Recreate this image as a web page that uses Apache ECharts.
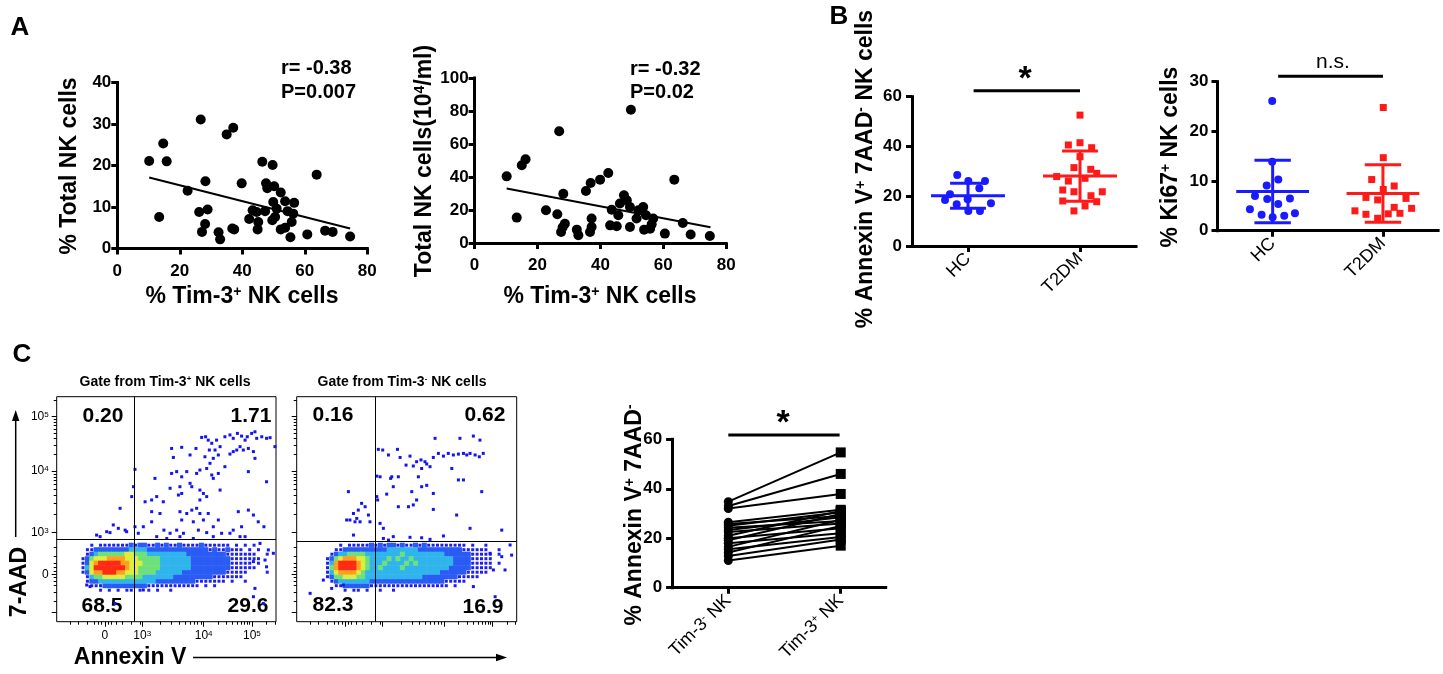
<!DOCTYPE html>
<html>
<head>
<meta charset="utf-8">
<title>Tim-3 NK cells</title>
<script src="https://cdn.jsdelivr.net/npm/echarts@6.0.0/dist/echarts.min.js"></script>
<style>
  html, body { margin: 0; padding: 0; background: #fff; }
  #chart { width: 1443px; height: 674px; }
</style>
</head>
<body>
<div id="chart"></div>
<script>
var FONT = '"Liberation Sans", Arial, sans-serif';

// ---- panel A : correlations ----
var a1Tim3 = [10.2, 14.7, 15.8, 13.4, 26.7, 22.5, 28.2, 26.2, 28.9, 28.1, 27.1, 32.4, 32.9, 36.8, 37.4,
  35.0, 37.1, 39.8, 46.4, 49.7, 47.6, 48.0, 43.3, 44.6, 42.2, 45.1, 44.9, 47.3, 49.9, 49.6, 52.3, 53.7,
  56.6, 54.5, 56.3, 55.8, 52.3, 53.7, 55.4, 60.8, 63.8, 66.5, 68.9, 74.5, 51.0, 50.2, 50.5];
var a1TotalNk = [21.1, 25.3, 21.0, 7.6, 31.1, 13.9, 16.2, 8.8, 9.4, 5.9, 4.0, 3.9, 2.2, 4.8, 4.6,
  27.5, 29.1, 15.7, 20.9, 20.1, 15.7, 14.5, 9.2, 8.8, 7.1, 6.4, 4.6, 9.0, 11.2, 6.8, 13.5, 11.4,
  11.0, 9.0, 8.4, 6.4, 4.6, 5.0, 2.7, 3.4, 17.8, 4.3, 4.0, 2.9, 9.6, 15.0, 7.6];
var a1Fit = [[10.2, 17.1], [74.5, 4.8]];

var a2Tim3 = [10.2, 13.4, 15.0, 16.2, 26.9, 28.2, 22.7, 26.3, 28.7, 28.0, 27.5, 32.5, 33.0, 37.2, 37.2,
  36.7, 35.4, 36.9, 39.9, 42.5, 49.7, 43.6, 46.2, 47.5, 48.4, 49.4, 45.7, 43.1, 45.2, 49.4, 51.5, 52.1,
  53.6, 54.5, 53.9, 55.8, 56.8, 56.3, 60.5, 63.5, 66.2, 68.7, 74.8];
var a2TotalNkAbs = [40.4, 15.4, 47.1, 50.7, 67.7, 29.9, 19.8, 17.4, 11.7, 9.5, 6.7, 8.1, 4.7, 14.8, 9.7,
  6.7, 31.5, 36.4, 38.4, 42.4, 80.8, 20.2, 23.9, 28.9, 25.9, 21.8, 16.8, 10.7, 10.1, 9.7, 14.8, 19.8,
  21.8, 16.8, 8.1, 8.7, 14.8, 11.3, 5.7, 38.4, 12.1, 5.1, 4.2];
var a2Fit = [[10.2, 33.0], [75.0, 9.5]];

// ---- panel B : HC vs T2DM ([jittered group position, value]) ----
var groupNames = ['HC', 'T2DM'];
var hcAnnexin = [[0.904, 28.5], [1.003, 26.1], [1.152, 26.1], [1.101, 23.2], [0.839, 20.8], [0.795, 18.5],
  [0.997, 18.8], [0.899, 16.8], [1.205, 17.2], [1.003, 14.1], [1.107, 14.1]];
var t2dmAnnexin = [[2.0, 52.6], [1.896, 40.6], [2.0, 41.5], [2.104, 39.5], [2.0, 35.9], [1.946, 31.5],
  [2.096, 30.8], [2.149, 29.2], [1.792, 27.9], [2.045, 27.2], [1.896, 26.1], [1.846, 22.5], [1.946, 21.8],
  [2.199, 21.8], [2.098, 20.2], [1.846, 18.1], [2.149, 17.8], [2.045, 16.1], [1.946, 14.1]];
var annexinMean = [20.2, 28.1];
var annexinSD = [5.0, 10.1];

var hcKi67 = [[0.996, 26.1], [0.996, 13.9], [1.051, 10.3], [0.946, 9.1], [0.840, 7.0], [0.951, 6.4],
  [1.157, 6.5], [1.051, 5.4], [0.794, 4.3], [0.900, 3.2], [1.0, 2.7], [1.105, 3.0], [1.202, 3.5]];
var t2dmKi67 = [[2.003, 24.8], [2.003, 14.7], [1.898, 10.3], [2.102, 9.0], [2.003, 8.3], [1.846, 6.7],
  [1.952, 6.2], [2.209, 6.5], [2.102, 4.7], [2.260, 4.5], [1.746, 4.0], [1.846, 3.3], [2.048, 3.4],
  [2.154, 3.5], [1.952, 2.5]];
var ki67Mean = [7.9, 7.5];
var ki67SD = [6.3, 5.8];

// ---- panel C : flow plots (display scale 0-100 on both axes) ----
var flowXTickVals = [22, 39, 67, 89];
var flowXTickText = ['0', '10{s|3}', '10{s|4}', '10{s|5}'];
var flowYTickVals = [4.4, 21.1, 39.6, 67.0, 91.1];
var flowYTickText = ['', '0', '10{s|3}', '10{s|4}', '10{s|5}'];
var gateTim3Pos = [35.4, 36.6];
var gateTim3Neg = [35.9, 35.6];
var quadTim3Pos = ['0.20', '1.71', '68.5', '29.6'];
var quadTim3Neg = ['0.16', '0.62', '82.3', '16.9'];

// density levels, one string per row, columns start at x=12 every 2 units
var flowRowY = [34, 32, 30, 28, 26, 24, 22, 20, 18, 16, 14];
var flowColX0 = 12, flowColStep = 2;
var densityTim3Pos = [
  '0010 1111 1112 1221 1212 1121 1112 1111 1101 0101 0000',
  '0112 2222 2223 3332 2222 2222 2222 2121 1211 1010 1000',
  '0123 4444 4455 4443 3333 3333 2222 2222 2111 1111 0010',
  '1245 5566 6655 5444 4433 3333 3222 2222 2211 1111 1000',
  '1256 7777 7665 5544 4433 3333 3222 2222 2211 1110 1000',
  '1357 7777 7765 5444 4433 3333 3222 2222 2211 1111 0000',
  '1256 6777 6655 5444 4333 3332 2222 2222 2111 1100 0010',
  '0134 4555 5544 4433 3333 3222 2222 2211 1111 1000 0000',
  '0122 3333 3333 3333 3222 2222 2211 1111 1010 0100 0000',
  '0011 1222 2222 2221 1111 1111 1110 1010 0000 0000 0000',
  '0000 1010 1011 0101 0100 1000 0000 0000 0000 0000 0000'
];
var densityTim3Neg = [
  '0000 1011 1112 1212 2121 1212 1111 1111 1010 0100 0000',
  '0001 1222 2222 2223 3333 3322 2222 2222 1111 1100 1000',
  '0012 3344 4433 3333 3343 3333 3333 2222 2211 1110 1000',
  '0124 5666 5543 3334 3433 4333 3333 3322 2211 1110 0000',
  '0136 7777 6543 3343 3334 3433 3333 3322 2211 1110 1000',
  '0146 7777 6543 3433 3343 3333 3333 3222 2211 1110 0000',
  '0135 6666 5433 3333 3333 3333 3332 2222 2111 1100 0000',
  '0124 4555 4433 3333 3333 3332 2222 2221 1111 0000 0000',
  '0012 3333 3332 2222 2222 2222 2222 1111 1000 0000 0000',
  '0001 1222 2221 1111 1111 1111 1111 1010 0000 0000 0000',
  '0000 0101 1010 0100 1000 0000 0000 0000 0000 0000 0000'
];
var sparseTim3Pos = [[66.1,81.9],[67.9,82.2],[69.1,80.7],[70.7,79.3],[72.9,80.7],[74.5,77.8],[72.2,76.3],
  [73.7,74.1],[71.4,72.6],[69.9,70.4],[76.7,82.2],[79.0,83.0],[80.5,81.5],[82.4,83.7],[84.3,82.5],[85.9,80.7],
  [86.9,82.2],[88.9,83.7],[90.4,84.4],[91.2,81.5],[93.5,82.2],[95.7,81.5],[97.3,81.8],[99.5,77.8],[83.6,77.8],
  [85.1,76.3],[87.4,77.0],[89.7,75.6],[80.5,75.6],[82.1,76.3],[79.0,74.5],[90.4,72.6],[87.4,66.7],[95.7,62.2],
  [67.6,73.3],[69.6,76.3],[63.5,77.0],[60.8,74.1],[57.0,77.5],[52.4,77.0],[53.2,73.0],[52.4,65.9],[54.7,66.7],
  [57.0,64.4],[59.3,66.7],[60.8,61.5],[63.8,65.9],[65.3,67.4],[68.4,68.1],[70.7,65.2],[73.7,65.9],[71.4,63.7],
  [76.7,68.9],[74.5,58.5],[68.4,55.6],[66.9,57.0],[65.3,54.1],[61.6,60.0],[57.0,57.0],[55.5,56.3],[51.7,59.3],
  [48.6,53.3],[47.1,48.1],[43.3,48.9],[40.3,53.3],[43.3,54.1],[45.6,55.6],[44.8,63.7],[63.8,50.4],[65.3,48.1],
  [66.9,45.2],[61.6,49.6],[59.3,48.1],[56.2,48.9],[57.0,45.2],[62.3,44.4],[69.1,48.1],[71.4,42.2],[73.7,45.2],
  [75.2,39.3],[79.0,39.3],[82.8,48.9],[84.3,42.2],[87.4,49.6],[89.7,47.4],[91.9,44.4],[94.5,42.2],[68.4,39.6],
  [64.6,40.7],[57.8,39.3],[54.7,40.7],[51.7,39.3],[48.9,40.7],[45.6,37.8],[43.3,44.4],[39.5,42.2],[37.2,39.3],
  [35.7,42.2],[35.0,60.0],[34.2,55.6],[35.7,67.7],[28.9,50.4],[25.8,43.0],[22.8,40.0],[24.3,39.6],[31.2,40.7],
  [31.9,40.0],[28.1,41.5],[19.8,37.8],[18.2,38.5],[90.4,14.8],[89.7,11.1],[94.2,8.1],[39.5,14.1],[26.6,8.1],
  [15.2,15.6],[13.7,16.3],[95.7,24.4],[95.0,27.4],[89.7,26.7],[98.8,30.4],[96.5,31.9],[92.7,34.8],[56.2,60.0],
  [65.3,58.5],[80.5,40.7],[83.6,37.8],[85.9,37.8],[50.2,37.0],[56.2,37.8],[62.3,37.0],[71.4,37.8]];
var sparseTim3Neg = [[62.9,81.5],[74.2,81.5],[80.3,82.5],[83.3,80.7],[37.1,76.6],[39.1,76.3],[45.8,76.6],
  [41.7,74.1],[47.0,73.0],[51.5,73.6],[54.5,71.1],[56.5,71.9],[58.3,71.1],[62.1,73.0],[64.4,74.8],[66.7,73.6],
  [68.9,74.8],[71.2,74.1],[73.5,74.5],[75.8,74.8],[77.3,74.1],[78.8,74.8],[81.1,74.1],[83.0,73.3],[84.8,74.8],
  [60.6,68.9],[53.0,69.2],[49.7,69.6],[56.8,68.1],[59.1,70.1],[70.5,68.1],[37.9,64.4],[36.4,64.7],[43.2,64.4],
  [42.7,63.7],[55.3,64.4],[73.5,63.0],[75.8,63.0],[43.9,60.0],[56.8,60.0],[59.1,60.6],[40.9,56.7],[52.3,57.8],
  [62.1,57.0],[84.1,57.8],[53.0,51.9],[54.5,54.1],[46.2,51.1],[50.8,51.1],[62.1,49.9],[72.7,47.4],[36.8,54.1],
  [36.4,55.6],[23.5,57.8],[29.5,52.6],[31.1,51.1],[28.0,49.6],[25.8,48.1],[24.2,45.2],[22.7,45.2],[26.5,44.4],
  [27.3,45.9],[28.8,44.4],[32.6,47.4],[33.3,44.4],[25.8,38.5],[39.4,37.0],[41.7,36.3],[43.9,37.8],[51.5,37.5],
  [56.8,37.3],[60.6,36.6],[66.7,38.1],[78.8,41.5],[93.2,40.7],[39.4,41.5],[37.9,43.7],[97.0,34.1],[97.7,29.6],
  [93.2,28.9],[87.9,30.4],[89.4,23.0],[94.7,23.0],[80.3,15.6],[90.2,11.1],[6.1,12.6],[12.1,18.5],[15.9,14.8],
  [21.2,16.3],[46.2,64.4]];

// ---- panel C : paired Annexin V+ 7AAD- ----
var pairedNames = ['Tim-3{s|-} NK', 'Tim-3{s|+} NK'];
var pairedNeg = [34.8, 33.0, 32.0, 26.5, 25.8, 25.0, 24.2, 23.3, 22.5, 21.0, 20.0, 19.2, 18.0, 16.5, 15.5, 14.2, 12.8, 11.0];
var pairedPos = [54.7, 46.0, 37.9, 31.5, 29.0, 30.5, 27.0, 28.5, 26.0, 31.0, 24.0, 29.8, 22.0, 27.5, 20.5, 25.0, 19.5, 17.0];

var densityColors = ['', '#1f1ff0', '#2a5cf4', '#2fb4ec', '#6ee07a', '#dcee3a', '#ff9f22', '#ff2a14'];
var BLUE = '#1a1aff', RED = '#ff1a1a';

function densityPoints(rows) {
  var out = [];
  rows.forEach(function (row, r) {
    row.replace(/ /g, '').split('').forEach(function (ch, i) {
      var lvl = +ch;
      if (lvl > 0) out.push([flowColX0 + flowColStep * i, flowRowY[r], lvl]);
    });
  });
  out.sort(function (a, b) { return a[2] - b[2]; });
  return out;
}

// minor ticks of the log decades and of the linear part round zero
function minorTicks(decades, zero, offsets) {
  var t = [];
  decades.forEach(function (d) {
    for (var k = 2; k <= 9; k++) {
      var v = d[0] + (d[1] - d[0]) * Math.log10(k);
      if (v < 100) t.push(v);
    }
  });
  offsets.forEach(function (o) {
    if (zero - o > 1) t.push(zero - o);
    t.push(zero + o);
  });
  return t;
}
var flowXMinor = minorTicks([[39, 67], [67, 89], [89, 111]], 22, [1.5, 3, 5, 8, 12, 16]);
var flowYMinor = minorTicks([[39.6, 67.0], [67.0, 91.1], [91.1, 115.2]], 21.1, [1.5, 3, 5, 8, 12]);

function pick(vals, texts) {
  return function (v) {
    for (var i = 0; i < vals.length; i++) if (Math.abs(vals[i] - v) < 0.01) return texts[i];
    return '';
  };
}

var axisLineStyle = { show: true, onZero: false, lineStyle: { color: '#000', width: 3, cap: 'square' } };
var tickStyle = { show: true, length: 6, lineStyle: { color: '#000', width: 3 } };

function valueAxis(gridIndex, min, max, interval, margin) {
  return {
    type: 'value', gridIndex: gridIndex, min: min, max: max, interval: interval,
    axisLine: axisLineStyle, axisTick: tickStyle, splitLine: { show: false },
    axisLabel: { margin: margin, color: '#000', fontSize: 17, fontWeight: 'bold', fontFamily: FONT }
  };
}

function groupAxis(gridIndex, max, names) {
  return {
    type: 'value', gridIndex: gridIndex, min: 0.5, max: max,
    axisLine: axisLineStyle, splitLine: { show: false },
    axisTick: { show: true, length: 6, customValues: [1, 2], lineStyle: { color: '#000', width: 3 } },
    axisLabel: {
      customValues: [1, 2], rotate: 45, margin: 10, color: '#000', fontSize: 18, fontFamily: FONT,
      formatter: function (v) { return names[Math.round(v) - 1]; },
      rich: { s: { fontSize: 11, fontFamily: FONT, color: '#000', verticalAlign: 'top' } }
    }
  };
}

function flowAxis(dim, gridIndex, showLabel) {
  var vals = dim === 'x' ? flowXTickVals : flowYTickVals;
  var texts = dim === 'x' ? flowXTickText : flowYTickText;
  return {
    type: 'value', gridIndex: gridIndex, min: 0, max: 100, position: dim === 'x' ? 'bottom' : 'left',
    axisLine: { show: false }, splitLine: { show: false },
    axisTick: { show: true, length: 5, customValues: vals, lineStyle: { color: '#000', width: 1 } },
    axisLabel: {
      show: showLabel, customValues: vals, margin: 8, color: '#000', fontSize: 12, fontFamily: FONT,
      formatter: pick(vals, texts),
      rich: { s: { fontSize: 8, fontFamily: FONT, color: '#000', verticalAlign: 'top' } }
    }
  };
}

function flowMinorAxis(dim, gridIndex) {
  return {
    type: 'value', gridIndex: gridIndex, min: 0, max: 100, position: dim === 'x' ? 'bottom' : 'left',
    axisLine: { show: false }, splitLine: { show: false }, axisLabel: { show: false },
    axisTick: { show: true, length: 3, customValues: dim === 'x' ? flowXMinor : flowYMinor,
      lineStyle: { color: '#000', width: 1 } }
  };
}

function errorBars(halfMean, halfCap, color) {
  return function (params, api) {
    var x = api.value(0), m = api.value(1), sd = api.value(2);
    function seg(a, b) {
      var p = api.coord(a), q = api.coord(b);
      return { type: 'line', shape: { x1: p[0], y1: p[1], x2: q[0], y2: q[1] },
        style: { stroke: color, lineWidth: 3 } };
    }
    return { type: 'group', children: [
      seg([x - halfMean, m], [x + halfMean, m]),
      seg([x, m - sd], [x, m + sd]),
      seg([x - halfCap, m + sd], [x + halfCap, m + sd]),
      seg([x - halfCap, m - sd], [x + halfCap, m - sd])
    ] };
  };
}

function zip(xs, ys) { return xs.map(function (x, i) { return [x, ys[i]]; }); }

function line(ax, data, width) {
  return { type: 'line', xAxisIndex: ax, yAxisIndex: ax, data: data, symbol: 'none', clip: false,
    silent: true, lineStyle: { color: '#000', width: width }, z: 3 };
}

function scatter(ax, data, symbol, size, color) {
  return { type: 'scatter', xAxisIndex: ax, yAxisIndex: ax, data: data, symbol: symbol,
    symbolSize: size, silent: true, itemStyle: { color: color, opacity: 1 }, z: 4 };
}

function gateLines(gate) {
  return { silent: true, symbol: ['none', 'none'], label: { show: false },
    lineStyle: { color: '#000', width: 1, type: 'solid' },
    data: [{ xAxis: gate[0] }, { yAxis: gate[1] }] };
}

function flowSeries(ax, rows, sparse, gate) {
  var dens = {
    type: 'scatter', xAxisIndex: ax, yAxisIndex: ax, data: densityPoints(rows), symbol: 'rect', silent: true,
    symbolSize: function (d) { return d[2] === 1 ? 3 : [5, 5]; },
    itemStyle: { opacity: 1, color: function (p) { return densityColors[p.data[2]]; } }
  };
  var sp = scatter(ax, sparse, 'rect', 3, '#1414f0');
  sp.markLine = gateLines(gate);
  return [dens, sp];
}

var series = [
  scatter(0, zip(a1Tim3, a1TotalNk), 'circle', 10, '#000'),
  line(0, a1Fit, 2),
  scatter(1, zip(a2Tim3, a2TotalNkAbs), 'circle', 10, '#000'),
  line(1, a2Fit, 2),

  scatter(2, hcAnnexin, 'circle', 8, BLUE),
  scatter(2, t2dmAnnexin, 'rect', 7, RED),
  { type: 'custom', xAxisIndex: 2, yAxisIndex: 2, silent: true, z: 5, encode: { x: 0, y: 1 },
    renderItem: errorBars(0.33, 0.16, BLUE), data: [[1, annexinMean[0], annexinSD[0]]] },
  { type: 'custom', xAxisIndex: 2, yAxisIndex: 2, silent: true, z: 5, encode: { x: 0, y: 1 },
    renderItem: errorBars(0.33, 0.16, RED), data: [[2, annexinMean[1], annexinSD[1]]] },
  line(2, [[1.05, 62.4], [2.0, 62.4]], 3),

  scatter(3, hcKi67, 'circle', 8, BLUE),
  scatter(3, t2dmKi67, 'rect', 7, RED),
  { type: 'custom', xAxisIndex: 3, yAxisIndex: 3, silent: true, z: 5, encode: { x: 0, y: 1 },
    renderItem: errorBars(0.33, 0.165, BLUE), data: [[1, ki67Mean[0], ki67SD[0]]] },
  { type: 'custom', xAxisIndex: 3, yAxisIndex: 3, silent: true, z: 5, encode: { x: 0, y: 1 },
    renderItem: errorBars(0.33, 0.165, RED), data: [[2, ki67Mean[1], ki67SD[1]]] },
  line(3, [[1.05, 31.1], [2.0, 31.1]], 3)
];
series = series.concat(flowSeries(4, densityTim3Pos, sparseTim3Pos, gateTim3Pos));
series = series.concat(flowSeries(5, densityTim3Neg, sparseTim3Neg, gateTim3Neg));
pairedNeg.forEach(function (v, i) { series.push(line(6, [[1, v], [2, pairedPos[i]]], 2)); });
series.push(scatter(6, pairedNeg.map(function (v) { return [1, v]; }), 'circle', 9, '#000'));
series.push(scatter(6, pairedPos.map(function (v) { return [2, v]; }), 'rect', 10, '#000'));
series.push(line(6, [[1.0, 61.7], [1.99, 61.7]], 3));

// ---- text and arrows ----
function txt(x, y, text, size, bold, rot, align) {
  var w = bold ? 'bold' : 'normal';
  return {
    type: 'text', x: x, y: y, rotation: rot || 0, silent: true,
    style: {
      text: text, fontSize: size, fontWeight: w, fontFamily: FONT, fill: '#000',
      align: align || 'center', verticalAlign: 'middle',
      textAlign: align || 'center', textVerticalAlign: 'middle',
      rich: { s: { fontSize: Math.round(size * 0.6), fontWeight: w, fontFamily: FONT, fill: '#000', verticalAlign: 'top' } }
    }
  };
}
var UP = Math.PI / 2;
var graphics = [
  txt(20, 28, 'A', 26, true), txt(839, 17, 'B', 26, true), txt(22, 355, 'C', 26, true),

  txt(70, 166, '% Total NK cells', 23, true, UP),
  txt(242, 297, '% Tim-3{s|+} NK cells', 23, true),
  txt(281, 68, 'r= -0.38', 20, true, 0, 'left'),
  txt(281, 92, 'P=0.007', 20, true, 0, 'left'),
  txt(425, 161, 'Total NK cells(10{s|4}/ml)', 23, true, UP),
  txt(600, 297, '% Tim-3{s|+} NK cells', 23, true),
  txt(630, 69, 'r= -0.32', 20, true, 0, 'left'),
  txt(630, 92, 'P=0.02', 20, true, 0, 'left'),

  txt(866, 169, '% Annexin V{s|+} 7AAD{s|-} NK cells', 23, true, UP),
  txt(1025, 80, '*', 34, true),
  txt(1171, 157, '% Ki67{s|+} NK cells', 23, true, UP),
  txt(1333, 62, 'n.s.', 21, false),

  txt(165, 382, 'Gate from Tim-3{s|+} NK cells', 14, true),
  txt(402, 382, 'Gate from Tim-3{s|-} NK cells', 14, true),
  txt(103, 416, quadTim3Pos[0], 21, true), txt(251, 416, quadTim3Pos[1], 21, true),
  txt(102, 606, quadTim3Pos[2], 21, true), txt(248, 606, quadTim3Pos[3], 21, true),
  txt(333, 415, quadTim3Neg[0], 21, true), txt(485, 415, quadTim3Neg[1], 21, true),
  txt(333, 605, quadTim3Neg[2], 21, true), txt(483, 607, quadTim3Neg[3], 21, true),
  txt(20, 582, '7-AAD', 23, true, UP),
  txt(130, 658, 'Annexin V', 23, true),
  { type: 'line', silent: true, shape: { x1: 15.7, y1: 537, x2: 15.7, y2: 418 }, style: { stroke: '#000', lineWidth: 1.5 } },
  { type: 'polygon', silent: true, shape: { points: [[15.7, 410], [12, 421], [19.4, 421]] }, style: { fill: '#000' } },
  { type: 'line', silent: true, shape: { x1: 193, y1: 657.5, x2: 498, y2: 657.5 }, style: { stroke: '#000', lineWidth: 1.5 } },
  { type: 'polygon', silent: true, shape: { points: [[507, 657.5], [496, 653.8], [496, 661.2]] }, style: { fill: '#000' } },

  txt(635, 515, '% Annexin V{s|+} 7AAD{s|-}', 23, true, UP),
  txt(783, 424, '*', 34, true)
];

var grids = [
  { left: 117.3, top: 82.5, width: 250, height: 166 },
  { left: 474.6, top: 78, width: 251.6, height: 165 },
  { left: 912, top: 96.7, width: 224, height: 149.3 },
  { left: 1217.5, top: 81.7, width: 220.6, height: 149 },
  { left: 56.7, top: 396.7, width: 219.3, height: 225, show: true, borderColor: '#000', borderWidth: 1 },
  { left: 296.7, top: 396.7, width: 220, height: 225, show: true, borderColor: '#000', borderWidth: 1 },
  { left: 672.1, top: 439.3, width: 213.6, height: 148.4 }
].map(function (g) { return Object.assign({ containLabel: false, outerBoundsMode: 'none' }, g); });

var chart = echarts.init(document.getElementById('chart'));
chart.setOption({
  animation: false,
  backgroundColor: '#fff',
  textStyle: { fontFamily: FONT },
  grid: grids,
  xAxis: [
    valueAxis(0, 0, 80, 20, 14),
    valueAxis(1, 0, 80, 20, 14),
    groupAxis(2, 2.5, groupNames),
    groupAxis(3, 2.5, groupNames),
    flowAxis('x', 4, true),
    flowAxis('x', 5, false),
    groupAxis(6, 2.4, pairedNames),
    flowMinorAxis('x', 4),
    flowMinorAxis('x', 5)
  ],
  yAxis: [
    valueAxis(0, 0, 40, 10, 6),
    valueAxis(1, 0, 100, 20, 6),
    valueAxis(2, 0, 60, 20, 10),
    valueAxis(3, 0, 30, 10, 9),
    flowAxis('y', 4, true),
    flowAxis('y', 5, false),
    valueAxis(6, 0, 60, 20, 10),
    flowMinorAxis('y', 4),
    flowMinorAxis('y', 5)
  ],
  series: series,
  graphic: graphics
});
</script>
</body>
</html>
